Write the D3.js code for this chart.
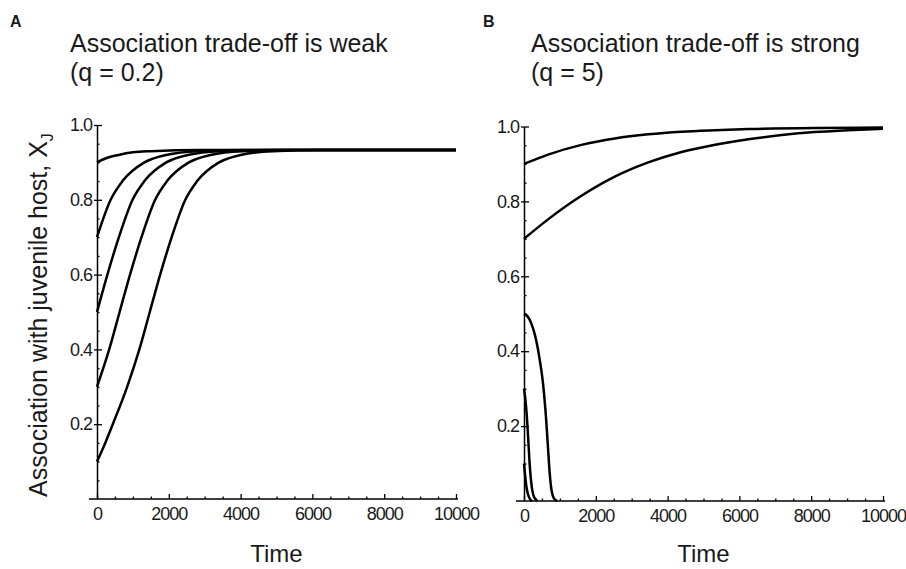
<!DOCTYPE html>
<html>
<head>
<meta charset="utf-8">
<script src="https://cdn.jsdelivr.net/npm/d3@7"></script>
<style>
  body { margin: 0; background: #fff; }
  text { font-family: "Liberation Sans", Arial, sans-serif; fill: #1a1a1a; }
</style>
</head>
<body>
<div id="chart"></div>
<script>
// tick values
var timeMajor = [0, 2000, 4000, 6000, 8000, 10000];
var timeMinor = [500, 1000, 1500, 2500, 3000, 3500, 4500, 5000, 5500, 6500, 7000, 7500, 8500, 9000, 9500];
var xjMajor = [0.2, 0.4, 0.6, 0.8, 1.0];
var xjMinor = [0.05, 0.1, 0.15, 0.25, 0.3, 0.35, 0.45, 0.5, 0.55, 0.65, 0.7, 0.75, 0.85, 0.9, 0.95];

// panel A, q = 0.2 : [time, X_J]
var weak01 = [[0,0.1],[230,0.15],[440,0.2],[840,0.3],[1180,0.4],[1470,0.5],[1760,0.6],[2080,0.7],[2460,0.8],[2790,0.85],[3400,0.9],[4000,0.92],[4900,0.93],[6300,0.933],[10000,0.933]];
var weak03 = [[0,0.3],[340,0.4],[630,0.5],[920,0.6],[1240,0.7],[1620,0.8],[1950,0.85],[2560,0.9],[3160,0.92],[4060,0.93],[5460,0.933],[10000,0.933]];
var weak05 = [[0,0.5],[290,0.6],[610,0.7],[990,0.8],[1320,0.85],[1930,0.9],[2530,0.92],[3430,0.93],[4830,0.933],[10000,0.933]];
var weak07 = [[0,0.7],[380,0.8],[710,0.85],[1320,0.9],[1920,0.92],[2820,0.93],[4220,0.933],[10000,0.933]];
var weak09 = [[0,0.9],[250,0.911],[600,0.92],[1000,0.927],[1500,0.93],[2900,0.933],[10000,0.933]];

// panel B, q = 5
var strong09 = [[0,0.9],[670,0.925],[1600,0.951],[2530,0.968],[3460,0.979],[4390,0.986],[5320,0.990],[6250,0.993],[8100,0.996],[10000,0.997]];
var strong07 = [[0,0.7],[670,0.752],[1600,0.815],[2530,0.866],[3460,0.904],[4390,0.932],[5320,0.951],[6250,0.966],[7180,0.977],[8100,0.985],[9030,0.990],[10000,0.994]];
var strong05 = [[0,0.5],[100,0.493],[200,0.475],[300,0.445],[380,0.41],[450,0.37],[510,0.33],[560,0.285],[600,0.24],[640,0.185],[680,0.125],[715,0.075],[750,0.04],[790,0.018],[840,0.006],[920,0]];
var strong03 = [[0,0.3],[40,0.27],[80,0.225],[115,0.17],[150,0.11],[185,0.065],[220,0.035],[260,0.016],[310,0.006],[380,0]];
var strong01 = [[0,0.1],[30,0.07],[65,0.04],[105,0.02],[150,0.008],[225,0]];

var width = 906, height = 569;

var svg = d3.select("#chart")
    .append("svg")
    .attr("width", width)
    .attr("height", height);

function drawPanel(p) {
    var x = d3.scaleLinear().domain([0, 10000]).range([p.left, p.right]);
    var y = d3.scaleLinear().domain([0, 1]).range([p.bottom, p.top]);
    var g = svg.append("g");

    // x axis: minor + major ticks pointing up, own base line
    g.append("g")
        .attr("transform", "translate(0," + y(0) + ")")
        .call(d3.axisBottom(x).tickValues(timeMinor).tickSize(-2.5).tickFormat(""))
        .call(function(a) { a.select(".domain").remove(); });
    var xa = g.append("g")
        .attr("transform", "translate(0," + y(0) + ")")
        .call(d3.axisBottom(x).tickValues(timeMajor).tickSize(-5).tickPadding(8).tickFormat(d3.format("d")));
    xa.select(".domain").remove();
    xa.selectAll("text").style("font-size", "18px").style("letter-spacing", "-1px").attr("fill", "#1a1a1a");
    g.append("line")
        .attr("x1", x(0) - 8).attr("x2", x(10000) + 2)
        .attr("y1", y(0)).attr("y2", y(0))
        .attr("stroke", "#000").attr("stroke-width", 1.5);

    // y axis
    g.append("g")
        .attr("transform", "translate(" + x(0) + ",0)")
        .call(d3.axisLeft(y).tickValues(xjMinor).tickSize(-2.5).tickFormat(""))
        .call(function(a) { a.select(".domain").remove(); });
    var ya = g.append("g")
        .attr("transform", "translate(" + x(0) + ",0)")
        .call(d3.axisLeft(y).tickValues(xjMajor).tickSize(-5).tickSizeOuter(0).tickPadding(5).tickFormat(d3.format(".1f")));
    ya.select(".domain").attr("stroke-width", 1.5);
    ya.selectAll(".tick line").attr("x1", -3);
    ya.selectAll("text").style("font-size", "18px").style("letter-spacing", "-1px").attr("fill", "#1a1a1a");
    g.selectAll(".tick line").attr("stroke-width", 1.3);

    // curves
    var line = d3.line()
        .x(function(d) { return x(d[0]); })
        .y(function(d) { return y(d[1]); })
        .curve(d3.curveMonotoneX);
    g.selectAll(".curve")
        .data(p.series)
        .enter()
        .append("path")
        .attr("class", "curve")
        .attr("d", line)
        .attr("fill", "none")
        .attr("stroke", "#000")
        .attr("stroke-width", 2.5);

    // letter and title
    g.append("text").attr("x", p.letterX).attr("y", 27)
        .style("font-size", "16px").style("font-weight", "bold").text(p.letter);
    g.append("text").attr("x", p.titleX).attr("y", 52)
        .style("font-size", "25px").text(p.title);
    g.append("text").attr("x", p.titleX).attr("y", 81)
        .style("font-size", "25px").text(p.sub);

    g.append("text")
        .attr("x", (x(0) + x(10000)) / 2).attr("y", 562)
        .attr("text-anchor", "middle")
        .style("font-size", "24px").text("Time");
    return g;
}

var panelA = drawPanel({
    left: 97, right: 456, top: 125, bottom: 499,
    letterX: 10, titleX: 70,
    letter: "A", title: "Association trade-off is weak", sub: "(q = 0.2)",
    series: [weak01, weak03, weak05, weak07, weak09]
});
drawPanel({
    left: 524, right: 883, top: 126.5, bottom: 501,
    letterX: 483, titleX: 531,
    letter: "B", title: "Association trade-off is strong", sub: "(q = 5)",
    series: [strong09, strong07, strong05, strong03, strong01]
});

// y label, panel A only
var yl = panelA.append("text")
    .attr("transform", "translate(47,315) rotate(-90)")
    .attr("text-anchor", "middle")
    .style("font-size", "25px");
yl.append("tspan").text("Association with juvenile host, X");
yl.append("tspan").attr("dy", 6).style("font-size", "16px").text("J");
</script>
</body>
</html>
